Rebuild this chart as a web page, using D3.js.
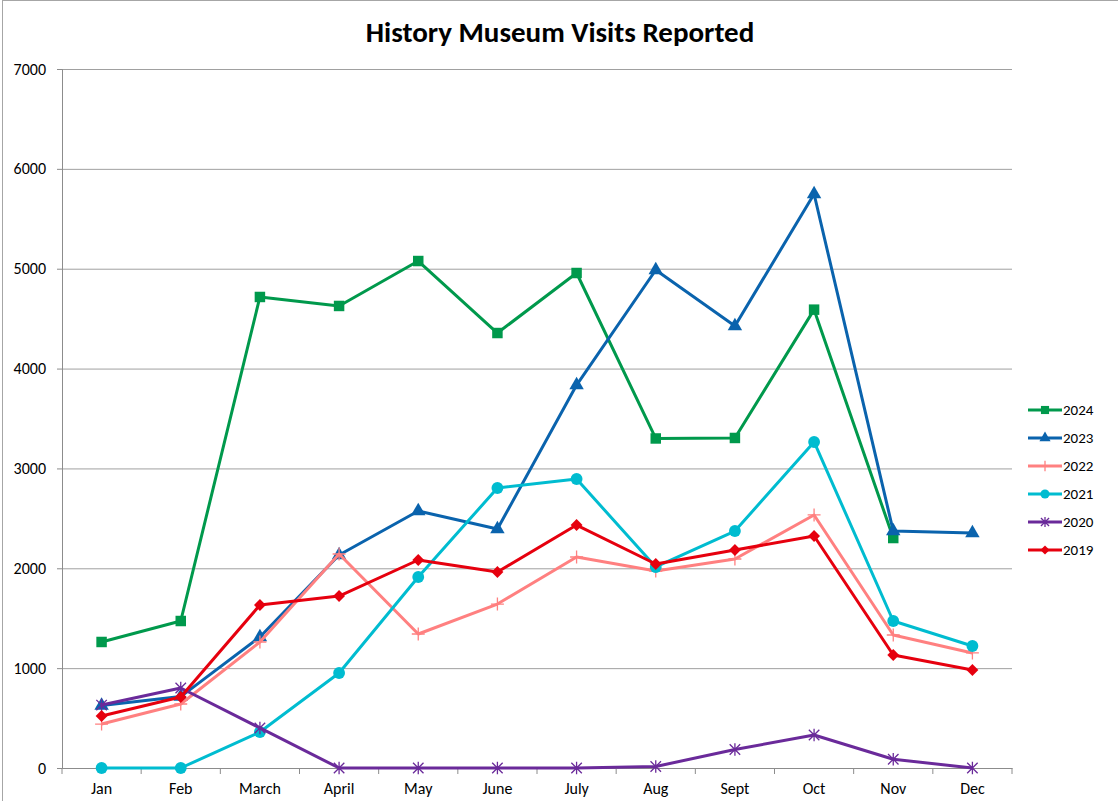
<!DOCTYPE html>
<html>
<head>
<meta charset="utf-8">
<script src="https://cdn.jsdelivr.net/npm/d3@7"></script>
<style>
  body { margin: 0; background: #fff; }
  text { font-family: Calibri, Carlito, "Open Sans", "Liberation Sans", sans-serif; }
</style>
</head>
<body>
<div id="chart"></div>
<script>
"use strict";

// months on the x axis
const months = ["Jan", "Feb", "March", "April", "May", "June", "July", "Aug", "Sept", "Oct", "Nov", "Dec"];
const yTicks = [0, 1000, 2000, 3000, 4000, 5000, 6000, 7000];

// series values (null = no point)
const visits2024 = [1262, 1472, 4717, 4627, 5077, 4356, 4957, 3300, 3305, 4590, 2303, null];
const visits2023 = [625, 715, 1312, 2133, 2574, 2393, 3835, 4987, 4426, 5748, 2373, 2353];
const visits2022 = [440, 641, 1262, 2143, 1342, 1642, 2113, 1973, 2093, 2534, 1332, 1152];
const visits2021 = [0, 0, 360, 951, 1913, 2804, 2894, 2013, 2373, 3265, 1472, 1222];
const visits2020 = [630, 801, 401, 0, 0, 0, 0, 15, 185, 330, 88, 0];
const visits2019 = [521, 711, 1632, 1722, 2083, 1963, 2433, 2043, 2183, 2323, 1132, 981];

const series = [
  {name: "2024", values: visits2024, color: "#00994c", symbol: "square"},
  {name: "2023", values: visits2023, color: "#0a63ad", symbol: "triangle"},
  {name: "2022", values: visits2022, color: "#ff8080", symbol: "plus"},
  {name: "2021", values: visits2021, color: "#00bcd0", symbol: "circle"},
  {name: "2020", values: visits2020, color: "#6a2a9a", symbol: "star"},
  {name: "2019", values: visits2019, color: "#e6000e", symbol: "diamond"}
];

const W = 1118, H = 801;
const margins = {top: 69, right: 106, bottom: 33, left: 62};

const svg = d3.select("#chart").append("svg")
  .attr("width", W).attr("height", H);

// chart border (cut by the window on right and bottom)
svg.append("rect")
  .attr("x", 2.5).attr("y", 0.5)
  .attr("width", W + 10).attr("height", H + 10)
  .attr("fill", "none").attr("stroke", "#a6a6a6");

svg.append("text")
  .attr("x", 560).attr("y", 42)
  .attr("text-anchor", "middle")
  .style("font-size", "29px").style("font-weight", "bold")
  .text("History Museum Visits Reported");

const x = d3.scaleBand().domain(months)
  .range([margins.left, W - margins.right]).padding(0);
const y = d3.scaleLinear().domain([0, 7000])
  .range([H - margins.bottom, margins.top]);

// gridlines
svg.append("g")
  .attr("transform", `translate(${margins.left},0)`)
  .call(d3.axisLeft(y).tickValues(yTicks).tickSize(-(W - margins.right - margins.left)).tickFormat(""))
  .call(g => g.select(".domain").remove())
  .selectAll("line").attr("stroke", "#a0a0a0");

// y axis
svg.append("g")
  .attr("transform", `translate(${margins.left},0)`)
  .call(d3.axisLeft(y).tickValues(yTicks).tickSize(5).tickPadding(11).tickFormat(d3.format("d")))
  .call(g => g.select(".domain").attr("stroke", "#8c8c8c"))
  .call(g => g.selectAll("line").attr("stroke", "#8c8c8c"))
  .call(g => g.selectAll("text").style("font-size", "16px").attr("fill", "#000"));

// x axis: labels centred, ticks at band edges
const xAxisG = svg.append("g")
  .attr("transform", `translate(0,${y(0)})`)
  .call(d3.axisBottom(x).tickSize(0).tickPadding(15))
  .call(g => g.select(".domain").attr("stroke", "#8c8c8c"))
  .call(g => g.selectAll("text").style("font-size", "16px").attr("fill", "#000"));
xAxisG.selectAll(".edge").data(months.concat(["end"]))
  .enter().append("line")
  .attr("class", "edge")
  .attr("x1", (d, i) => margins.left + i * x.step())
  .attr("x2", (d, i) => margins.left + i * x.step())
  .attr("y1", 0).attr("y2", 6)
  .attr("stroke", "#8c8c8c");

const symbols = {
  square: d3.symbolSquare,
  triangle: d3.symbolTriangle,
  circle: d3.symbolCircle,
  diamond: d3.symbolDiamond2,
  plus: d3.symbolCross,
  star: d3.symbolTimes
};
const sizes = {square: 110, triangle: 90, circle: 110, diamond: 90, plus: 120, star: 110};

function drawMarker(g, s, cx, cy, scale) {
  const sz = sizes[s.symbol] * (scale || 1);
  if (s.symbol === "plus") {
    const h = Math.sqrt(sz) / 2 + 1;
    g.append("path")
      .attr("d", `M${cx - h},${cy}H${cx + h}M${cx},${cy - h}V${cy + h}`)
      .attr("stroke", s.color).attr("stroke-width", 1.3).attr("fill", "none");
  } else if (s.symbol === "star") {
    const h = Math.sqrt(sz) / 2;
    g.append("path")
      .attr("d", `M${cx - h},${cy - h}L${cx + h},${cy + h}M${cx - h},${cy + h}L${cx + h},${cy - h}M${cx},${cy - h - 1}V${cy + h + 1}`)
      .attr("stroke", s.color).attr("stroke-width", 1.3).attr("fill", "none");
  } else {
    g.append("path")
      .attr("d", d3.symbol().type(symbols[s.symbol]).size(sz)())
      .attr("transform", `translate(${cx},${cy})`)
      .attr("fill", s.color);
  }
}

const line = d3.line()
  .defined(d => d.v !== null)
  .x(d => x(d.m) + x.bandwidth() / 2)
  .y(d => y(d.v));

series.forEach(s => {
  const pts = months.map((m, i) => ({m: m, v: s.values[i]}));
  const g = svg.append("g");
  g.append("path")
    .attr("d", line(pts))
    .attr("fill", "none")
    .attr("stroke", s.color)
    .attr("stroke-width", 3)
    .attr("stroke-linejoin", "round");
  pts.filter(d => d.v !== null).forEach(d => {
    drawMarker(g, s, x(d.m) + x.bandwidth() / 2, y(d.v));
  });
});

// legend
const legend = svg.append("g");
series.forEach((s, i) => {
  const ly = 410 + i * 28;
  const g = legend.append("g");
  g.append("line")
    .attr("x1", 1028).attr("x2", 1062)
    .attr("y1", ly).attr("y2", ly)
    .attr("stroke", s.color).attr("stroke-width", 3);
  drawMarker(g, s, 1045, ly, 0.6);
  g.append("text")
    .attr("x", 1063).attr("y", ly + 5)
    .style("font-size", "15px")
    .text(s.name);
});
</script>
</body>
</html>
